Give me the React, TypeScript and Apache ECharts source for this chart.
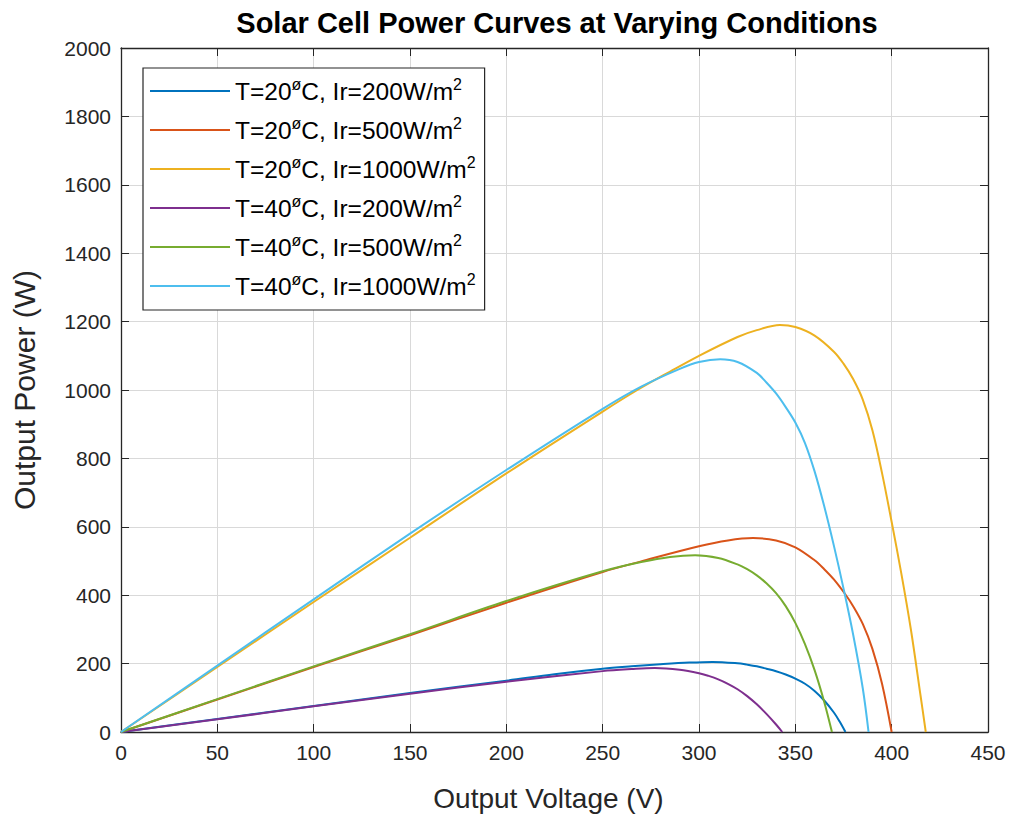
import React, { useEffect, useRef } from "react";
import * as echarts from "echarts";

// Output voltage (V) / output power (W) pairs
const t20_ir200: [number, number][] = [
  [0, 0], [50, 38], [100, 76], [150, 114], [200, 150], [225, 169], [250, 185],
  [265, 192], [280, 198], [295, 203], [307, 205], [320, 201], [325, 197],
  [330, 192], [335, 185], [340, 177.5], [345, 168], [350, 156], [355, 141],
  [360, 120], [365, 92], [370, 57], [373, 30.5], [376, 0],
];
const t20_ir500: [number, number][] = [
  [0, 0], [50, 95], [100, 190], [150, 283], [200, 378], [250, 468], [270, 499],
  [300, 543], [315, 560], [328, 567], [340, 560], [350, 540], [360, 502],
  [365, 476], [370, 446], [376, 402], [380, 368], [385, 316], [390, 243],
  [395, 141], [400, 0],
];
const t20_ir1000: [number, number][] = [
  [0, 0], [50, 190], [100, 380], [150, 568], [200, 756], [250, 937], [268, 1000],
  [285, 1054], [300, 1100], [320, 1155], [330, 1175], [342, 1190], [350, 1184],
  [360, 1159], [370, 1112], [375, 1077], [380, 1032], [385, 972], [390, 882],
  [395, 757], [400, 614], [405, 464], [410, 299], [415, 106], [417.7, 0],
];
const t40_ir200: [number, number][] = [
  [0, 0], [50, 37], [100, 75], [150, 112], [200, 147], [250, 178], [265, 184],
  [277, 187], [290, 182], [300, 172], [305, 164], [310, 154], [315, 141],
  [320, 125], [325, 105], [330, 81], [335, 53], [340, 22], [343.2, 0],
];
const t40_ir500: [number, number][] = [
  [0, 0], [50, 96], [100, 192], [150, 286], [200, 383], [250, 470], [270, 497],
  [285, 512], [298, 517], [310, 509], [320, 490], [325, 476], [330, 458],
  [335, 435], [340, 406], [345, 368], [350, 319], [355, 257], [360, 181],
  [365, 88], [369, 0],
];
const t40_ir1000: [number, number][] = [
  [0, 0], [50, 194], [100, 388], [150, 580], [200, 766], [250, 945], [270, 1010],
  [290, 1062], [300, 1082], [311, 1090], [320, 1082], [330, 1050], [335, 1022],
  [340, 990], [345, 950], [350, 905], [355, 845], [360, 762], [365, 660],
  [370, 545], [375, 420], [380, 285], [385, 128], [388, 0],
];

const temperatures = [20, 20, 20, 40, 40, 40];
const irradiances = [200, 500, 1000, 200, 500, 1000];
const curves = [t20_ir200, t20_ir500, t20_ir1000, t40_ir200, t40_ir500, t40_ir1000];
const colors = ["#0072BD", "#D95319", "#EDB120", "#7E2F8E", "#77AC30", "#4DBEEE"];
const seriesNames = temperatures.map((t, i) => `T=${t}øC, Ir=${irradiances[i]}W/m2`);

const FONT = "'Liberation Sans', Arial, Helvetica, sans-serif";
const INK = "#262626";

export default function App() {
  const ref = useRef<HTMLDivElement>(null);

  useEffect(() => {
    if (!ref.current) return;
    const chart = echarts.init(ref.current, undefined, { renderer: "svg" });

    const axisLine = { show: true, onZero: false, lineStyle: { color: INK, width: 1.3 } };
    const axisTick = { show: true, inside: true, length: 8, lineStyle: { color: INK, width: 1 } };

    chart.setOption({
      animation: false,
      backgroundColor: "#ffffff",
      color: colors,
      title: {
        text: "Solar Cell Power Curves at Varying Conditions",
        left: 552,
        top: 3,
        textAlign: "center",
        textStyle: { fontFamily: FONT, fontSize: 29, fontWeight: "bold", color: "#000" },
      },
      grid: { left: 121, top: 48, right: 25, bottom: 86, containLabel: false, outerBoundsMode: "none" },
      legend: {
        orient: "vertical",
        left: 143,
        top: 68,
        data: seriesNames,
        icon: "rect",
        backgroundColor: "#ffffff",
        borderColor: INK,
        borderWidth: 1.2,
        padding: [8, 9, 9, 7],
        itemWidth: 80,
        itemHeight: 2,
        itemGap: 9,
        selectedMode: false,
        formatter: (name: string) => {
          const i = seriesNames.indexOf(name);
          return `{n|T=${temperatures[i]}}{s|ø}{n|C, Ir=${irradiances[i]}W/m}{s|2}`;
        },
        textStyle: {
          fontFamily: FONT,
          color: "#000",
          lineHeight: 30,
          rich: {
            n: { fontFamily: FONT, fontSize: 24.5, lineHeight: 30, color: "#000" },
            s: { fontFamily: FONT, fontSize: 16, lineHeight: 16, verticalAlign: "top", color: "#000" },
          },
        },
      },
      xAxis: [
        {
          type: "value",
          min: 0,
          max: 450,
          interval: 50,
          position: "bottom",
          name: "Output Voltage (V)",
          nameLocation: "middle",
          nameGap: 52,
          nameTextStyle: { fontFamily: FONT, fontSize: 28, color: INK, padding: [0, 12, 0, 0] },
          axisLine,
          axisTick,
          axisLabel: { fontFamily: FONT, fontSize: 21, color: INK, margin: 10, formatter: (v: number) => String(v) },
          splitLine: { show: true, lineStyle: { color: "#d9d9d9", width: 1 } },
        },
        {
          type: "value",
          min: 0,
          max: 450,
          interval: 50,
          position: "top",
          axisLine,
          axisTick,
          axisLabel: { show: false },
          splitLine: { show: false },
        },
      ],
      yAxis: [
        {
          type: "value",
          min: 0,
          max: 2000,
          interval: 200,
          position: "left",
          name: "Output Power (W)",
          nameLocation: "middle",
          nameGap: 82,
          nameTextStyle: { fontFamily: FONT, fontSize: 30, color: INK },
          axisLine,
          axisTick,
          axisLabel: { fontFamily: FONT, fontSize: 21, color: INK, margin: 10, formatter: (v: number) => String(v) },
          splitLine: { show: true, lineStyle: { color: "#d9d9d9", width: 1 } },
        },
        {
          type: "value",
          min: 0,
          max: 2000,
          interval: 200,
          position: "right",
          axisLine,
          axisTick,
          axisLabel: { show: false },
          splitLine: { show: false },
        },
      ],
      series: curves.map((data, i) => ({
        name: seriesNames[i],
        type: "line",
        xAxisIndex: 0,
        yAxisIndex: 0,
        data,
        symbol: "none",
        showSymbol: false,
        smooth: 0.35,
        lineStyle: { width: 2, color: colors[i] },
        itemStyle: { color: colors[i] },
        emphasis: { disabled: true },
        z: 2 + i,
      })),
    });

    return () => chart.dispose();
  }, []);

  return (
    <div
      ref={ref}
      style={{ position: "absolute", left: 0, top: 0, width: 1013, height: 818 }}
    />
  );
}
